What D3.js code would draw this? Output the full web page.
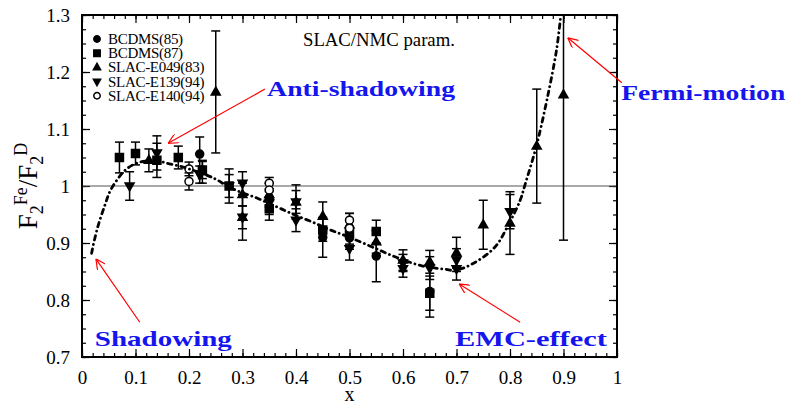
<!DOCTYPE html>
<html>
<head>
<meta charset="utf-8">
<script src="https://cdn.jsdelivr.net/npm/d3@7"></script>
<style>
  body { margin:0; background:#fff; }
  svg text { font-family: "Liberation Serif", "DejaVu Serif", serif !important; }
</style>
</head>
<body>
<div id="chart-area"></div>
<script>
// [x, F2Fe/F2D, error]
const bcdms85 = [[0.22,1.056,0.03],[0.35,0.978,0.015],[0.45,0.91,0.035],[0.5,0.909,0.02],
    [0.55,0.877,0.045],[0.65,0.815,0.045]];
const bcdms87 = [[0.07,1.05,0.027],[0.10,1.057,0.02],[0.14,1.045,0.03],[0.18,1.05,0.02],
    [0.225,1.028,0.015],[0.275,1.0,0.03],[0.35,0.96,0.02],[0.45,0.923,0.02],[0.5,0.918,0.02],
    [0.55,0.92,0.02],[0.65,0.812,0.03]];
const e049 = [[0.125,1.045,0.02],[0.225,1.025,0.02],[0.25,1.165,0.107],[0.3,0.985,0.02],
    [0.3,0.945,0.04],[0.35,0.985,0.02],[0.4,0.972,0.03],[0.45,0.947,0.025],[0.5,0.932,0.02],
    [0.55,0.902,0.02],[0.6,0.87,0.018],[0.65,0.867,0.02],[0.7,0.883,0.027],[0.75,0.932,0.043],
    [0.8,0.935,0.055],[0.85,1.07,0.1],[0.9,1.16,0.255]];
const e139 = [[0.089,1.0,0.025],[0.14,1.058,0.03],[0.22,1.02,0.015],[0.275,1.0,0.02],
    [0.3,1.005,0.02],[0.3,0.945,0.02],[0.35,0.97,0.02],[0.4,0.972,0.02],[0.4,0.94,0.02],
    [0.5,0.89,0.02],[0.6,0.865,0.015],[0.6,0.855,0.015],[0.65,0.856,0.02],[0.7,0.87,0.02],
    [0.7,0.855,0.02],[0.8,0.955,0.03]];
const e140 = [[0.2,1.03,0.012],[0.2,1.008,0.015],[0.35,1.005,0.01],[0.35,0.993,0.012],
    [0.5,0.94,0.012],[0.5,0.926,0.012]];

// SLAC/NMC parametrisation
const param = [[0.018,0.882],[0.021,0.896],[0.03,0.93],[0.043,0.967],[0.052,0.99],[0.065,1.01],
    [0.082,1.029],[0.105,1.041],[0.125,1.044],[0.14,1.045],[0.158,1.04],[0.186,1.034],
    [0.233,1.019],[0.252,1.011],[0.273,0.999],[0.3,0.988],[0.327,0.979],[0.35,0.969],
    [0.37,0.961],[0.398,0.949],[0.43,0.937],[0.464,0.923],[0.5,0.91],[0.545,0.892],
    [0.59,0.874],[0.635,0.86],[0.679,0.854],[0.697,0.852],[0.731,0.864],[0.772,0.893],
    [0.797,0.932],[0.819,0.975],[0.828,1.002],[0.849,1.069],[0.869,1.151],[0.887,1.239],
    [0.895,1.3]];

const xTicks = [0,0.1,0.2,0.3,0.4,0.5,0.6,0.7,0.8,0.9,1];
const yTicks = [0.7,0.8,0.9,1,1.1,1.2,1.3];

const margin = { left:82, right:172, top:15, bottom:48 };
const width = 789 - margin.left - margin.right,
    height = 405 - margin.top - margin.bottom;

var svg = d3.select("#chart-area")
    .append("svg")
    .attr("width", 789)
    .attr("height", 405)
    .style("font-family", '"Liberation Serif", "DejaVu Serif", serif');

const g = svg.append("g")
    .attr("transform", "translate(" + margin.left + ", " + margin.top + ")");

const x = d3.scaleLinear().domain([0,1]).range([0,width]);
const y = d3.scaleLinear().domain([0.7,1.3]).range([height,0]);

g.append("clipPath").attr("id","clip")
    .append("rect").attr("width",width).attr("height",height);

// ticks on all four sides, pointing inward
function tickSide(axis, scale, ticks, minor, fmt, transform){
    const a = g.append("g").attr("transform", transform);
    a.call(axis(scale).tickValues(minor).tickSize(-4).tickFormat(""));
    const b = g.append("g").attr("transform", transform);
    b.call(axis(scale).tickValues(ticks).tickSize(-8).tickPadding(12).tickFormat(fmt));
    [a,b].forEach(s => {
        s.attr("font-family", null);
        s.select(".domain").remove();
        s.selectAll("line").attr("stroke","#000").attr("stroke-width",1.2);
        s.selectAll("text").attr("font-size","19px").attr("fill","#000");
    });
    return b;
}
const xMinor = d3.range(0, 1.001, 0.02).map(d => +d.toFixed(2));
const yMinor = d3.range(0.7, 1.301, 0.025).map(d => +d.toFixed(3));
const fmt = d => String(d);
tickSide(d3.axisBottom, x, xTicks, xMinor, fmt, "translate(0," + height + ")")
    .selectAll("text").attr("dy","0.8em");
tickSide(d3.axisTop, x, xTicks, xMinor, "", "translate(0,0)");
tickSide(d3.axisLeft, y, yTicks, yMinor, fmt, "translate(0,0)");
tickSide(d3.axisRight, y, yTicks, yMinor, "", "translate(" + width + ",0)");

// reference line at 1
g.append("line")
    .attr("x1",0).attr("x2",width).attr("y1",y(1)).attr("y2",y(1))
    .attr("stroke","#555").attr("stroke-width",1.2);

const plot = g.append("g").attr("clip-path","url(#clip)");

const allSeries = [
    { name:"BCDMS(85)", data:bcdms85, sym:"circle", fill:"#000" },
    { name:"BCDMS(87)", data:bcdms87, sym:"square", fill:"#000" },
    { name:"SLAC-E049(83)", data:e049, sym:"up", fill:"#000" },
    { name:"SLAC-E139(94)", data:e139, sym:"down", fill:"#000" },
    { name:"SLAC-E140(94)", data:e140, sym:"circle", fill:"#fff" }
];

function symPath(sym, s){
    if (sym === "up") return "M0," + (-s) + "L" + (s*0.9) + "," + (s*0.6) + "L" + (-s*0.9) + "," + (s*0.6) + "Z";
    if (sym === "down") return "M0," + s + "L" + (s*0.9) + "," + (-s*0.6) + "L" + (-s*0.9) + "," + (-s*0.6) + "Z";
    if (sym === "square") return "M" + (-s*0.8) + "," + (-s*0.8) + "h" + (s*1.6) + "v" + (s*1.6) + "h" + (-s*1.6) + "Z";
    return d3.arc()({innerRadius:0, outerRadius:s*0.8, startAngle:0, endAngle:2*Math.PI});
}

// error bars
allSeries.forEach(function(ser){
    const eb = plot.append("g").selectAll("g").data(ser.data).enter().append("g");
    eb.append("line")
        .attr("x1", d => x(d[0])).attr("x2", d => x(d[0]))
        .attr("y1", d => y(d[1]-d[2])).attr("y2", d => y(d[1]+d[2]))
        .attr("stroke","#000").attr("stroke-width",1.5);
    [-1,1].forEach(function(sg){
        eb.append("line")
            .attr("x1", d => x(d[0])-4.5).attr("x2", d => x(d[0])+4.5)
            .attr("y1", d => y(d[1]+sg*d[2])).attr("y2", d => y(d[1]+sg*d[2]))
            .attr("stroke","#000").attr("stroke-width",1.5);
    });
});
allSeries.forEach(function(ser){
    plot.append("g").selectAll("path").data(ser.data).enter().append("path")
        .attr("transform", d => "translate(" + x(d[0]) + "," + y(d[1]) + ")")
        .attr("d", symPath(ser.sym, 5))
        .attr("fill", ser.fill).attr("stroke","#000").attr("stroke-width",1.5);
});

// parametrisation curve
plot.append("path")
    .datum(param)
    .attr("d", d3.line().x(d => x(d[0])).y(d => y(d[1])).curve(d3.curveCatmullRom))
    .attr("fill","none").attr("stroke","#000").attr("stroke-width",2.8)
    .attr("stroke-linecap","round").attr("stroke-dasharray","4.5,4.5,0.1,4.5");

// frame
g.append("rect").attr("width",width).attr("height",height)
    .attr("fill","none").attr("stroke","#000").attr("stroke-width",2);

// legend
const leg = g.append("g").attr("transform","translate(15,24)");
allSeries.forEach(function(ser, i){
    const row = leg.append("g").attr("transform","translate(0," + (i*14.2) + ")");
    row.append("path").attr("d", symPath(ser.sym, 4))
        .attr("fill", ser.fill).attr("stroke","#000").attr("stroke-width",1.5);
    row.append("text").attr("x",11).attr("y",5).attr("font-size","15px")
        .attr("letter-spacing","-0.3px").text(ser.name);
});

g.append("text").attr("x", x(0.413)).attr("y", y(1.246))
    .attr("font-size","18px").attr("textLength",152).attr("lengthAdjust","spacingAndGlyphs")
    .text("SLAC/NMC param.");

// annotations
const notes = [
    { label:"Anti-shadowing", tx:0.346, ty:1.158, w:188, head:[0.161,1.075], tail:[0.342,1.17] },
    { label:"Fermi-motion", tx:1.008, ty:1.151, w:164, head:[0.908,1.26], tail:[1.009,1.181] },
    { label:"Shadowing", tx:0.024, ty:0.719, w:137, head:[0.026,0.872], tail:[0.108,0.761] },
    { label:"EMC-effect", tx:0.697, ty:0.719, w:152, head:[0.705,0.828], tail:[0.819,0.761] }
];
svg.append("defs").append("marker")
    .attr("id","arr").attr("viewBox","0 0 10 10").attr("refX",10).attr("refY",5)
    .attr("markerWidth",10).attr("markerHeight",10).attr("markerUnits","userSpaceOnUse")
    .attr("orient","auto")
    .append("path").attr("d","M0,0L10,5L0,10").attr("fill","none").attr("stroke","red").attr("stroke-width",1.2);
notes.forEach(function(n){
    g.append("line")
        .attr("x1", x(n.tail[0])).attr("y1", y(n.tail[1]))
        .attr("x2", x(n.head[0])).attr("y2", y(n.head[1]))
        .attr("stroke","red").attr("stroke-width",1.2).attr("marker-end","url(#arr)");
    g.append("text").attr("x", x(n.tx)).attr("y", y(n.ty))
        .attr("font-size","22px").attr("font-weight","bold").attr("fill","#1515ee")
        .attr("textLength", n.w).attr("lengthAdjust","spacingAndGlyphs")
        .text(n.label);
});

// axis titles
svg.append("text").attr("x", margin.left + width/2).attr("y", 401)
    .attr("text-anchor","middle").attr("font-size","20px").text("x");

const yl = svg.append("text")
    .attr("transform","translate(37," + (margin.top + height/2) + ") rotate(-90)")
    .attr("text-anchor","middle").attr("font-size","27px");
yl.append("tspan").text("F");
yl.append("tspan").attr("font-size","18px").attr("dy","6").text("2");
yl.append("tspan").attr("font-size","18px").attr("dy","-16").text("Fe");
yl.append("tspan").attr("dy","10").text("/F");
yl.append("tspan").attr("font-size","18px").attr("dy","6").text("2");
yl.append("tspan").attr("font-size","18px").attr("dy","-16").text("D");
</script>
</body>
</html>
